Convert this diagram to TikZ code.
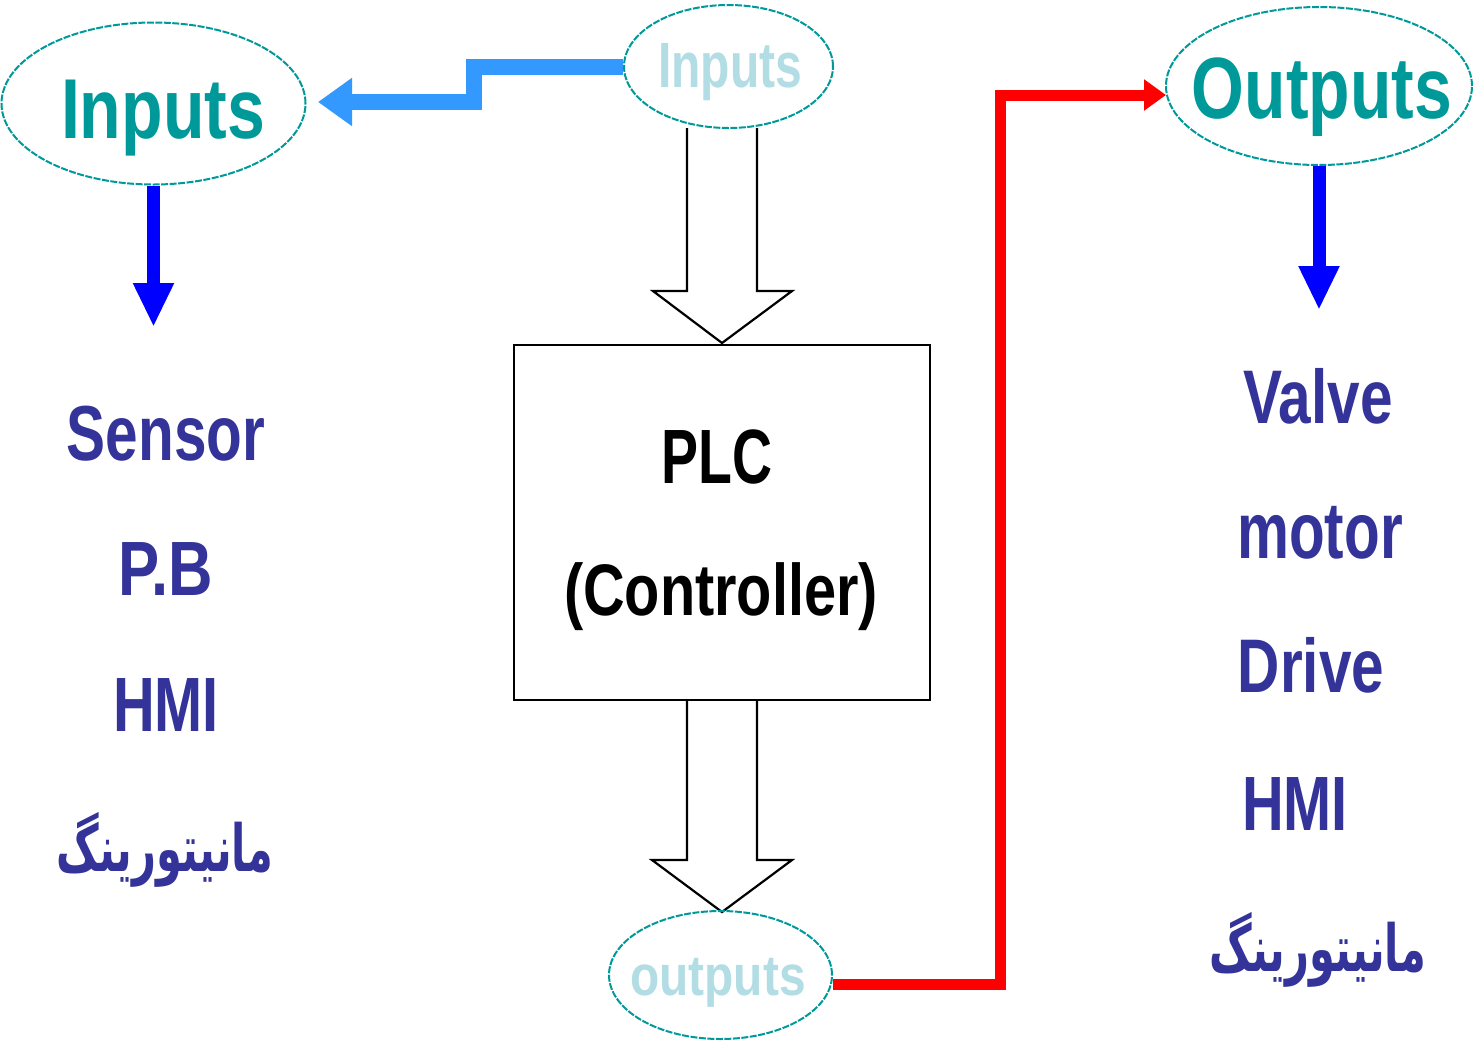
\documentclass[tikz,border=0pt]{standalone}
\usepackage{fontspec}
\usepackage{graphicx}
\setmainfont{Liberation Sans}
\newfontfamily\persfont[Script=Arabic]{DejaVu Sans}
\TeXXeTstate=1
\usetikzlibrary{shapes.geometric,arrows.meta,calc}
\definecolor{tealc}{HTML}{009999}
\definecolor{lightc}{HTML}{B3DDE4}
\definecolor{dkblue}{HTML}{333399}
\definecolor{lblue}{HTML}{3399FF}
\newcommand{\mylbl}[3]{\fontsize{#1}{#1}\selectfont\bfseries\scalebox{#2}[1]{#3}}
\newcommand{\mypers}{\scalebox{0.8}[1.25]{\persfont\bfseries\fontsize{52}{52}\selectfont\beginR مانیتورینگ\endR}}
\begin{document}
\begin{tikzpicture}[x=1pt,y=-1pt,
  ell/.style={ellipse,draw=tealc,line width=2pt,dash pattern=on 7pt off 1.5pt,inner sep=0pt},
  txt/.style={inner sep=0pt,anchor=base},
  blk/.style={draw=black,line width=2.2pt,fill=white,line join=miter},
  lbarrow/.style={draw=lblue,line width=16pt,-{Triangle[length=34pt,width=46pt]}},
  barrow/.style={draw=blue,line width=13pt,-{Triangle[length=44pt,width=38pt]}},
  rarrow/.style={draw=red,line width=11pt,-{Triangle[length=22pt,width=30pt]}}]
\fill[white] (0,0) rectangle (1478,1045);
\useasboundingbox (0,0) rectangle (1478,1045);

% block arrows
\draw[blk] (687,128) -- (687,291) -- (653,291) -- (722,343) -- (792,291) -- (757,291) -- (757,128);
\draw[blk] (687,700) -- (687,860) -- (652,860) -- (722,912) -- (792,860) -- (757,860) -- (757,700);

% ellipses
\node[ell,minimum width=304pt,minimum height=162pt] (inB) at (153.5,103.5) {};
\node[ell,minimum width=209pt,minimum height=123pt] (inS) at (728.5,66.5) {};
\node[ell,minimum width=306pt,minimum height=158pt] (outB) at (1319,86) {};
\node[ell,minimum width=223pt,minimum height=128pt] (outS) at (720.5,975) {};

% ellipse texts
\node[txt,text=tealc] (tinB) at (163,138) {\mylbl{85}{0.80}{Inputs}};
\node[txt,text=lightc] (tinS) at (730,87) {\mylbl{64}{0.75}{Inputs}};
\node[txt,text=tealc] (toutB) at (1322,118) {\mylbl{87}{0.78}{Outputs}};
\node[txt,text=lightc] (toutS) at (718,995) {\mylbl{57}{0.84}{outputs}};

% PLC box
\node[draw=black,line width=2.2pt,minimum width=416pt,minimum height=355pt,inner sep=0pt] (plc) at (722,522.5) {};
\node[txt] (tplc) at (717,483) {\mylbl{77}{0.72}{PLC}};
\node[txt] (tctrl) at (721,615) {\mylbl{73}{0.79}{(Controller)}};

% left list
\node[txt,text=dkblue] (l1) at (166,460) {\mylbl{78}{0.75}{Sensor}};
\node[txt,text=dkblue] (l2) at (166,595) {\mylbl{77}{0.80}{P.B}};
\node[txt,text=dkblue] (l3) at (166,731) {\mylbl{77}{0.75}{HMI}};
\node[inner sep=0pt,text=dkblue] (l4) at (165,850) {\mypers};

% right list
\node[txt,text=dkblue] (r1) at (1318,423) {\mylbl{76}{0.77}{Valve}};
\node[txt,text=dkblue] (r2) at (1320,558) {\mylbl{80}{0.73}{motor}};
\node[txt,text=dkblue] (r3) at (1311,692) {\mylbl{76}{0.77}{Drive}};
\node[txt,text=dkblue] (r4) at (1295,830) {\mylbl{77}{0.75}{HMI}};
\node[inner sep=0pt,text=dkblue] (r5) at (1318,950) {\mypers};

% connectors
\coordinate (jA) at (474,102);
\coordinate (tipA) at (318,102);
\draw[lbarrow] (inS.west) -| (jA) -- (tipA);

\coordinate (dL) at (153.5,327);
\draw[barrow] (inB.south) -- (dL);
\coordinate (dR) at (1319,310);
\draw[barrow] (outB.south) -- (dR);

\coordinate (rS) at ($(outS.east)+(0,9)$);
\coordinate (rC) at (1000,95);
\coordinate (rT) at ($(outB.west)+(1,9)$);
\draw[rarrow] (rS) -| (rC) -- (rT);
\end{tikzpicture}
\end{document}
